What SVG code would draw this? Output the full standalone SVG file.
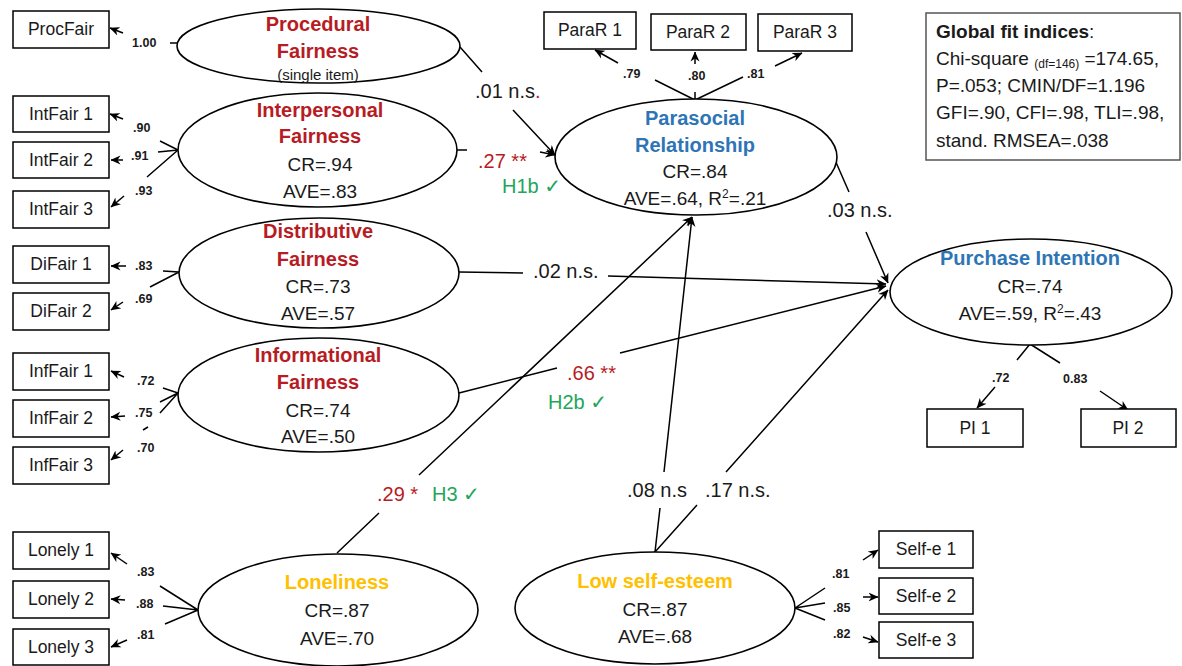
<svg xmlns="http://www.w3.org/2000/svg" width="1182" height="666" viewBox="0 0 1182 666">
<defs>
<marker id="arr" viewBox="0 0 10 10" refX="9.5" refY="5" markerWidth="10" markerHeight="10" markerUnits="userSpaceOnUse" orient="auto">
<path d="M0,0.5 L10,5 L0,9.5 L3,5 z" fill="#000"/>
</marker>
<style>
.box{fill:#fff;stroke:#000;stroke-width:1.5}
.ell{fill:#fff;stroke:#000;stroke-width:1.6}
.ln{fill:none;stroke:#000;stroke-width:1.5}
.ar{fill:none;stroke:#000;stroke-width:1.5;marker-end:url(#arr)}
text{font-family:"Liberation Sans",Arial,"DejaVu Sans",sans-serif;fill:#1a1a1a}
.bt{font-size:17.5px;text-anchor:middle}
.tt{font-size:20px;font-weight:bold;text-anchor:middle}
.st{font-size:19px;text-anchor:middle}
.ld{font-size:12.5px;font-weight:bold}
.pl{font-size:20px}
.red{fill:#B71C24}
.blue{fill:#2E75B6}
.yel{fill:#FFC000}
.grn{fill:#23A55A}
.fit{font-size:19px}
</style>
</defs>

<g id="connectors">
<!-- structural paths -->
<path class="ar" d="M460,47 L482,72 M513,110 L555,155"/>
<path class="ar" d="M457,150 L467,150 M540,152 L555,155"/>
<path class="ar" d="M835,160 L849,192 M866,232 L888,283"/>
<path class="ar" d="M459,272 L523,273 M608,276 L886,284"/>
<path class="ar" d="M459,393 L557,368 M620,353 L886,286"/>
<path class="ar" d="M337,553 L379,513 M419,475 L692,217"/>
<path class="ar" d="M655,552 L660,508 M664,472 L692,217"/>
<path class="ar" d="M655,552 L697,505 M726,472 L888,290"/>
<!-- measurement paths -->
<path class="ln" d="M170,43 L177,43"/>
<path class="ar" d="M123,33 L110,28"/>
<path class="ln" d="M178,150 L160,141 M178,150 L158,152 M178,150 L147,177"/>
<path class="ar" d="M123,119 L110,114"/>
<path class="ar" d="M123,160 L111,160"/>
<path class="ar" d="M124,196 L111,207"/>
<path class="ln" d="M179,272 L163,271 M179,272 L150,287"/>
<path class="ar" d="M126,266 L111,266"/>
<path class="ar" d="M123,302 L111,310"/>
<path class="ln" d="M178,393 L163,388 M178,393 L160,402 M178,393 L160,413 M148,427 L143,430"/>
<path class="ar" d="M124,377 L111,371"/>
<path class="ar" d="M125,416 L111,417"/>
<path class="ar" d="M123,450 L111,460"/>
<path class="ln" d="M198,610 L160,586 M198,610 L163,606 M198,610 L165,624"/>
<path class="ar" d="M127,564 L111,553"/>
<path class="ar" d="M125,600 L111,599"/>
<path class="ar" d="M127,640 L111,647"/>
<path class="ln" d="M795,608 L825,588 M795,608 L825,603 M795,608 L825,620"/>
<path class="ar" d="M863,560 L878,550"/>
<path class="ar" d="M863,597 L878,597"/>
<path class="ar" d="M863,637 L878,642"/>
<path class="ln" d="M695,100 L655,80 M695,100 L695,92 M695,100 L743,77"/>
<path class="ar" d="M618,63 L595,50"/>
<path class="ar" d="M695,64 L695,52"/>
<path class="ar" d="M775,66 L802,53"/>
<path class="ln" d="M1030,344 L1017,360 M1030,344 L1060,363"/>
<path class="ar" d="M995,387 L977,408"/>
<path class="ar" d="M1100,391 L1128,410"/>
<!-- loading labels -->
<text class="ld" x="132" y="47">1.00</text>
<text class="ld" x="133" y="132">.90</text>
<text class="ld" x="131" y="160">.91</text>
<text class="ld" x="135" y="195">.93</text>
<text class="ld" x="135" y="270">.83</text>
<text class="ld" x="135" y="303">.69</text>
<text class="ld" x="137" y="385">.72</text>
<text class="ld" x="135" y="417">.75</text>
<text class="ld" x="137" y="452">.70</text>
<text class="ld" x="137" y="576">.83</text>
<text class="ld" x="136" y="608">.88</text>
<text class="ld" x="137" y="639">.81</text>
<text class="ld" x="832" y="578">.81</text>
<text class="ld" x="833" y="612">.85</text>
<text class="ld" x="833" y="638">.82</text>
<text class="ld" x="623" y="78">.79</text>
<text class="ld" x="688" y="80">.80</text>
<text class="ld" x="747" y="78">.81</text>
<text class="ld" x="992" y="382">.72</text>
<text class="ld" x="1063" y="383">0.83</text>
<!-- path labels -->
<text class="pl" x="475" y="98">.01 n.s<tspan class="red">.</tspan></text>
<text class="pl red" x="478" y="168">.27 **</text>
<text class="pl grn" x="502" y="193">H1b ✓</text>
<text class="pl" x="827" y="217">.03 n.s.</text>
<text class="pl" x="533" y="278">.02 n.s.</text>
<text class="pl red" x="567" y="380">.66 **</text>
<text class="pl grn" x="548" y="409">H2b ✓</text>
<text class="pl red" x="377" y="501">.29 *</text>
<text class="pl grn" x="432" y="501">H3 ✓</text>
<text class="pl" x="627" y="497">.08 n.s</text>
<text class="pl" x="705" y="497">.17 n.s.</text>
</g>

<g id="ProcFair"><rect class="box" x="13" y="11" width="96" height="37"/><text class="bt" x="61" y="35">ProcFair</text></g>
<g id="IntFair1"><rect class="box" x="13" y="96" width="96" height="36"/><text class="bt" x="61" y="120">IntFair 1</text></g>
<g id="IntFair2"><rect class="box" x="13" y="142" width="96" height="36"/><text class="bt" x="61" y="166">IntFair 2</text></g>
<g id="IntFair3"><rect class="box" x="13" y="191" width="96" height="37"/><text class="bt" x="61" y="215">IntFair 3</text></g>
<g id="DiFair1"><rect class="box" x="13" y="246" width="96" height="37"/><text class="bt" x="61" y="270">DiFair 1</text></g>
<g id="DiFair2"><rect class="box" x="13" y="293" width="96" height="37"/><text class="bt" x="61" y="317">DiFair 2</text></g>
<g id="InfFair1"><rect class="box" x="13" y="353" width="96" height="37"/><text class="bt" x="61" y="377">InfFair 1</text></g>
<g id="InfFair2"><rect class="box" x="13" y="400" width="96" height="37"/><text class="bt" x="61" y="424">InfFair 2</text></g>
<g id="InfFair3"><rect class="box" x="13" y="447" width="96" height="37"/><text class="bt" x="61" y="471">InfFair 3</text></g>
<g id="Lonely1"><rect class="box" x="13" y="532" width="96" height="37"/><text class="bt" x="61" y="556">Lonely 1</text></g>
<g id="Lonely2"><rect class="box" x="13" y="581" width="96" height="37"/><text class="bt" x="61" y="605">Lonely 2</text></g>
<g id="Lonely3"><rect class="box" x="13" y="629" width="96" height="36"/><text class="bt" x="61" y="653">Lonely 3</text></g>
<g id="ParaR1"><rect class="box" x="544" y="12" width="92" height="37"/><text class="bt" x="590" y="36">ParaR 1</text></g>
<g id="ParaR2"><rect class="box" x="651" y="14" width="95" height="36"/><text class="bt" x="698" y="38">ParaR 2</text></g>
<g id="ParaR3"><rect class="box" x="758" y="14" width="94" height="37"/><text class="bt" x="805" y="38">ParaR 3</text></g>
<g id="PI1"><rect class="box" x="927" y="409" width="96" height="38"/><text class="bt" x="975" y="434">PI 1</text></g>
<g id="PI2"><rect class="box" x="1081" y="409" width="95" height="38"/><text class="bt" x="1128" y="434">PI 2</text></g>
<g id="Selfe1"><rect class="box" x="879" y="531" width="94" height="37"/><text class="bt" x="926" y="555">Self-e 1</text></g>
<g id="Selfe2"><rect class="box" x="879" y="578" width="94" height="36"/><text class="bt" x="926" y="602">Self-e 2</text></g>
<g id="Selfe3"><rect class="box" x="879" y="622" width="94" height="36"/><text class="bt" x="926" y="646">Self-e 3</text></g>

<g id="ProceduralFairness"><ellipse class="ell" cx="318.5" cy="46" rx="141.5" ry="37"/>
<text class="tt red" x="318" y="31">Procedural</text>
<text class="tt red" x="318" y="58">Fairness</text>
<text x="318" y="80" style="font-size:15px;text-anchor:middle">(single item)</text></g>

<g id="InterpersonalFairness"><ellipse class="ell" cx="317.5" cy="150" rx="139.5" ry="57"/>
<text class="tt red" x="320" y="117">Interpersonal</text>
<text class="tt red" x="320" y="143">Fairness</text>
<text class="st" x="320" y="171">CR=.94</text>
<text class="st" x="320" y="198">AVE=.83</text></g>

<g id="DistributiveFairness"><ellipse class="ell" cx="319" cy="273" rx="140" ry="55"/>
<text class="tt red" x="318" y="238">Distributive</text>
<text class="tt red" x="318" y="266">Fairness</text>
<text class="st" x="318" y="293">CR=.73</text>
<text class="st" x="318" y="320">AVE=.57</text></g>

<g id="InformationalFairness"><ellipse class="ell" cx="318.5" cy="395" rx="140.5" ry="57"/>
<text class="tt red" x="318" y="362">Informational</text>
<text class="tt red" x="318" y="389">Fairness</text>
<text class="st" x="318" y="417">CR=.74</text>
<text class="st" x="318" y="443">AVE=.50</text></g>

<g id="ParasocialRelationship"><ellipse class="ell" cx="696" cy="157" rx="141" ry="58"/>
<text class="tt blue" x="695" y="125">Parasocial</text>
<text class="tt blue" x="695" y="152">Relationship</text>
<text class="st" x="695" y="178">CR=.84</text>
<text class="st" x="695" y="205">AVE=.64, R<tspan dy="-7" style="font-size:12px">2</tspan><tspan dy="7">=.21</tspan></text></g>

<g id="PurchaseIntention"><ellipse class="ell" cx="1031" cy="292" rx="141" ry="53"/>
<text class="tt blue" x="1030" y="265">Purchase Intention</text>
<text class="st" x="1030" y="293">CR=.74</text>
<text class="st" x="1030" y="320">AVE=.59, R<tspan dy="-7" style="font-size:12px">2</tspan><tspan dy="7">=.43</tspan></text></g>

<g id="Loneliness"><ellipse class="ell" cx="338" cy="610" rx="140" ry="56"/>
<text class="tt yel" x="337" y="589">Loneliness</text>
<text class="st" x="337" y="617">CR=.87</text>
<text class="st" x="337" y="645">AVE=.70</text></g>

<g id="LowSelfEsteem"><ellipse class="ell" cx="655" cy="608" rx="140" ry="56"/>
<text class="tt yel" x="655" y="588">Low self-esteem</text>
<text class="st" x="655" y="616">CR=.87</text>
<text class="st" x="655" y="643">AVE=.68</text></g>

<g id="FitIndices"><rect x="926" y="13" width="254" height="147" fill="#fff" stroke="#555" stroke-width="1.5"/>
<text class="fit" x="936" y="38" font-weight="bold">Global fit indices<tspan font-weight="normal">:</tspan></text>
<text class="fit" x="936" y="65">Chi-square <tspan dy="3" style="font-size:12px">(df=146)</tspan><tspan dy="-3"> =174.65,</tspan></text>
<text class="fit" x="936" y="92">P=.053; CMIN/DF=1.196</text>
<text class="fit" x="936" y="119">GFI=.90, CFI=.98, TLI=.98,</text>
<text class="fit" x="936" y="147">stand. RMSEA=.038</text></g>
</svg>
